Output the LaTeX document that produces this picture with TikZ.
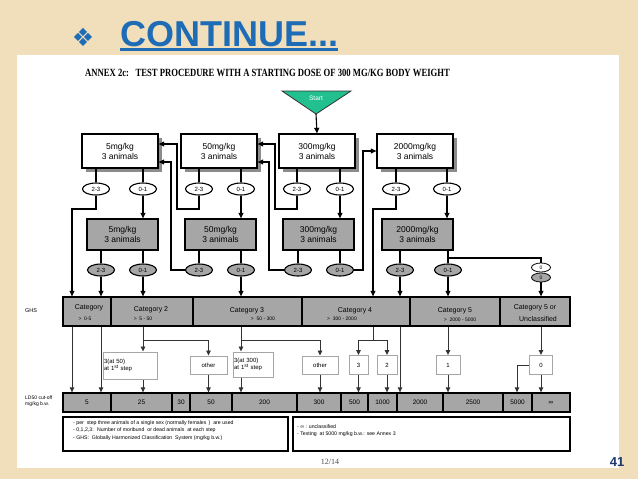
\documentclass[tikz,border=0pt]{standalone}
\usepackage{graphicx}
\usepackage{fontspec}
\setmainfont{Liberation Sans}
\newfontfamily\serifrm{Liberation Serif}
\newfontfamily\symfont{DejaVu Sans}
\usetikzlibrary{arrows.meta,shadows,shapes.geometric,calc}
\definecolor{pagebg}{HTML}{F0DFBA}
\definecolor{titleblue}{HTML}{1F6CB6}
\definecolor{boxgray}{HTML}{A6A6A6}
\definecolor{shadowgray}{HTML}{8C8C8C}
\definecolor{startgreen}{HTML}{22C08E}
\definecolor{pagenum}{HTML}{1F3A6A}
\begin{document}
\begin{tikzpicture}[x=1pt,y=-1pt,
  arr/.style={-{Triangle[length=5.5pt,width=5pt]}, line width=1.1pt},
  ln/.style={line width=1.1pt},
  larr/.style={-{Triangle[length=5pt,width=4.5pt]}, line width=0.9pt, black!80},
  lln/.style={line width=0.9pt, black!80},
  wbox/.style={draw, line width=1.3pt, fill=white, minimum width=76pt, minimum height=34pt, inner sep=0pt, align=center, font=\fontsize{8.5}{10}\selectfont, drop shadow={shadow xshift=4pt, shadow yshift=-4pt, fill=shadowgray, opacity=1}},
  gbox/.style={draw, line width=1.3pt, fill=boxgray, minimum width=71pt, minimum height=31pt, inner sep=0pt, align=center, font=\fontsize{8.5}{10}\selectfont},
  ell/.style={ellipse, draw, line width=1.1pt, fill=white, minimum width=27pt, minimum height=12pt, inner sep=0pt, font=\fontsize{6}{6}\selectfont},
  gell/.style={ell, fill=boxgray},
  zell/.style={ell, minimum width=19pt, minimum height=9pt, line width=0.8pt},
  cell/.style={draw, line width=1.3pt, fill=boxgray, minimum height=29pt, inner sep=0pt},
  ldcell/.style={draw, line width=1.3pt, fill=boxgray, minimum height=19pt, inner sep=0pt, font=\fontsize{6.5}{7}\selectfont},
  lbox/.style={draw=gray!70, line width=1pt, fill=white, inner sep=0pt, font=\fontsize{6}{7}\selectfont, minimum height=19pt},
  catt/.style={font=\fontsize{7}{8}\selectfont, inner sep=0pt},
  catr/.style={font=\fontsize{5}{6}\selectfont, inner sep=0pt},
  note/.style={draw, line width=1.2pt, fill=white, minimum height=34pt, inner sep=0pt},
  notetxt/.style={font=\fontsize{5.2}{7.4}\selectfont, align=left, inner sep=0pt, anchor=north west}
]
\useasboundingbox (0,0) rectangle (638,479);
\fill[pagebg] (0,0) rectangle (638,479);
\fill[white] (17,55) rectangle (619,468);

% title
\node[text=titleblue, font=\symfont\fontsize{25}{25}\selectfont, inner sep=0pt] (bul) at (83,37) {❖};
\node[anchor=base west, inner sep=0pt, text=titleblue, font=\fontsize{36}{36}\selectfont\bfseries] (ttl) at (120,46) {CONTINUE...};
\draw[titleblue, line width=2.2pt] ($(ttl.base west)+(0,3.5)$) -- ($(ttl.base east)+(0,3.5)$);
\node[anchor=base west, inner sep=0pt, font=\serifrm\bfseries\fontsize{11}{11}\selectfont] (annex) at (85,76) {\scalebox{0.785}[1]{ANNEX 2c:\ \ \ TEST PROCEDURE WITH A STARTING DOSE OF 300 MG/KG BODY WEIGHT}};

% start
\filldraw[fill=startgreen, draw=black!80, line width=0.8pt] (282,91) -- (351,91) -- (316,114) -- cycle;
\node[text=white, font=\fontsize{6.5}{7}\selectfont, inner sep=0pt] (start) at (316,98) {Start};
\coordinate (sa) at (316,114);

% helper coordinates
\coordinate (xA) at (72,0);
\coordinate (xB) at (177,0);
\coordinate (xC) at (171,0);
\coordinate (xD) at (275,0);
\coordinate (xE) at (269,0);
\coordinate (xF) at (363,0);
\coordinate (xG) at (373,0);
\coordinate (xI) at (517,0);
\coordinate (yA) at (0,209);
\coordinate (yB) at (0,340);
\coordinate (yC) at (0,258);
\coordinate (yP) at (0,144);
\coordinate (yQ) at (0,162);

% row 1 boxes
\node[wbox] (w5) at (120,151) {5mg/kg\\3 animals};
\node[wbox] (w50) at (219,151) {50mg/kg\\3 animals};
\node[wbox] (w300) at (317,151) {300mg/kg\\3 animals};
\node[wbox] (w2000) at (415,151) {2000mg/kg\\3 animals};

% row 1 ellipses
\node[ell] (e5a) at (96,189) {2-3};
\node[ell] (e5b) at (143,189) {0-1};
\node[ell] (e50a) at (199,189) {2-3};
\node[ell] (e50b) at (241,189) {0-1};
\node[ell] (e300a) at (297,189) {2-3};
\node[ell] (e300b) at (340,189) {0-1};
\node[ell] (e2000a) at (396,189) {2-3};
\node[ell] (e2000b) at (447,189) {0-1};

% row 2 boxes
\node[gbox] (g5) at (122.5,234.5) {5mg/kg\\3 animals};
\node[gbox] (g50) at (220.5,234.5) {50mg/kg\\3 animals};
\node[gbox] (g300) at (318.5,234.5) {300mg/kg\\3 animals};
\node[gbox] (g2000) at (417.5,234.5) {2000mg/kg\\3 animals};

% row 2 ellipses
\node[gell] (f5a) at (101,270) {2-3};
\node[gell] (f5b) at (143,270) {0-1};
\node[gell] (f50a) at (199,270) {2-3};
\node[gell] (f50b) at (241,270) {0-1};
\node[gell] (f300a) at (298,270) {2-3};
\node[gell] (f300b) at (340,270) {0-1};
\node[gell] (f2000a) at (400,270) {2-3};
\node[gell] (f2000b) at (448,270) {0-1};
\node[zell, font=\fontsize{5}{5}\selectfont] (z1) at (541,267.5) {0};
\node[zell, fill=boxgray, font=\fontsize{5}{5}\selectfont] (z2) at (541,277.5) {0};

% GHS bar
\node[font=\fontsize{5.5}{6}\selectfont, anchor=west, inner sep=0pt] (ghs) at (25,311) {GHS};
\node[cell, minimum width=48pt] (c1) at (87,311.5) {};
\node[cell, minimum width=82pt] (c2) at (152,311.5) {};
\node[cell, minimum width=109pt] (c3) at (247.5,311.5) {};
\node[cell, minimum width=108pt] (c4) at (356,311.5) {};
\node[cell, minimum width=90pt] (c5) at (455,311.5) {};
\node[cell, minimum width=70pt] (c6) at (535,311.5) {};
\node[catt] (t1) at (89,307.5) {Category};
\node[catr] (r1) at (85,318.5) {> \ 0-5};
\node[catt] (t2) at (151,310) {Category 2};
\node[catr] (r2) at (143,318.5) {> \ 5 - 50};
\node[catt] (t3) at (247,310.5) {Category 3};
\node[catr] (r3) at (263,319) {> \ 50 - 300};
\node[catt] (t4) at (355,310.5) {Category 4};
\node[catr] (r4) at (342,319) {> \ 300 - 2000};
\node[catt] (t5) at (455,310.5) {Category 5};
\node[catr] (r5) at (460,320) {> \ 2000 - 5000};
\node[catt] (t6) at (535,307.5) {Category 5 or};
\node[catt] (t6b) at (538,318.5) {Unclassified};

% lower boxes
\node[lbox, minimum width=54pt, minimum height=27pt, text width=52pt, align=left] (b1) at (130,365.5) {3(at 50)\\at 1\textsuperscript{st} step};
\node[lbox, minimum width=37pt, minimum height=18pt] (b2) at (208.5,365) {other};
\node[lbox, minimum width=40pt, minimum height=25pt, text width=38pt, align=left] (b3) at (253,364.5) {3(at 300)\\at 1\textsuperscript{st} step};
\node[lbox, minimum width=36pt, minimum height=18pt] (b4) at (320,365) {other};
\node[lbox, minimum width=19pt] (b5) at (358.5,365) {3};
\node[lbox, minimum width=20pt] (b6) at (387,365) {2};
\node[lbox, minimum width=24pt] (b7) at (448,365) {1};
\node[lbox, minimum width=23pt] (b8) at (541,365) {0};

% LD50 bar
\node[font=\fontsize{5}{6}\selectfont, anchor=west, inner sep=0pt, align=left] (ldl) at (25,401) {LD50 cut-off\\mg/kg b.w.};
\node[ldcell, minimum width=48pt] (d1) at (87,402.5) {5};
\node[ldcell, minimum width=61pt] (d2) at (141.5,402.5) {25};
\node[ldcell, minimum width=18pt] (d3) at (181,402.5) {30};
\node[ldcell, minimum width=42pt] (d4) at (211,402.5) {50};
\node[ldcell, minimum width=65pt] (d5) at (264.5,402.5) {200};
\node[ldcell, minimum width=44pt] (d6) at (319,402.5) {300};
\node[ldcell, minimum width=27pt] (d7) at (354.5,402.5) {500};
\node[ldcell, minimum width=29pt] (d8) at (382.5,402.5) {1000};
\node[ldcell, minimum width=46pt] (d9) at (420,402.5) {2000};
\node[ldcell, minimum width=60pt] (d10) at (473,402.5) {2500};
\node[ldcell, minimum width=29pt] (d11) at (517.5,402.5) {5000};
\node[ldcell, minimum width=38pt] (d12) at (551,402.5) {∞};

% notes
\node[note, minimum width=225pt] (n1) at (175.5,434) {};
\node[note, minimum width=277pt] (n2) at (431.5,434) {};
\node[notetxt] (n1t) at (73,420.5) {- per \ step three animals of a single sex (normally females \,) \ are used\\- 0,1,2,3: \ Number of moribund \ or dead animals \ at each step\\- GHS: \ Globally Harmonized Classification \ System (mg/kg b.w.)};
\node[notetxt, font=\fontsize{5.2}{6.6}\selectfont] (n2t) at (297,424.5) {- ∞ : unclassified\\- Testing \ at 5000 mg/kg b.w.: see Annex 3};

% footer
\node[font=\serifrm\fontsize{8}{8}\selectfont, text=black!70, inner sep=0pt] (pg) at (330,462) {12/14};
\node[font=\fontsize{13}{13}\selectfont\bfseries, text=pagenum, inner sep=0pt] (pn) at (617,462) {41};

% connectors: upper part
\draw[arr] (sa) -- (w300.north);
\foreach \b/\e in {w5/e5a,w5/e5b,w50/e50a,w50/e50b,w300/e300a,w300/e300b,w2000/e2000a,w2000/e2000b}
  \draw[ln] (\e.north |- \b.south) -- (\e.north);
\foreach \e/\g in {e5b/g5,e50b/g50,e300b/g300,e2000b/g2000}
  \draw[arr] (\e.south) -- (\e.south |- \g.north);
\foreach \g/\f in {g5/f5a,g5/f5b,g50/f50a,g50/f50b,g300/f300a,g300/f300b,g2000/f2000a,g2000/f2000b}
  \draw[ln] (\f.north |- \g.south) -- (\f.north);

\draw[arr] (e5a.south) |- (xA |- yA) -- (xA |- c1.north);
\draw[arr] (e50a.south) |- (xB |- yA) |- (w5.east |- yP);
\draw[arr] (f50a.west) -| (xC |- yQ) -- (w5.east |- yQ);
\draw[arr] (e300a.south) |- (xD |- yA) |- (w50.east |- yP);
\draw[arr] (f300a.west) -| (xE |- yQ) -- (w50.east |- yQ);
\draw[arr] (f300b.east) -| (xF |- w2000.west) -- (w2000.west);
\draw[arr] (e2000a.south) |- (xG |- yA) -- (xG |- c4.north);
\draw[arr] (f5a.south) -- (f5a.south |- c1.north);
\draw[arr] (f5b.south) -- (f5b.south |- c2.north);
\draw[arr] (f50b.south) -- (f50b.south |- c3.north);
\draw[arr] (f2000a.south) -- (f2000a.south |- c4.north);
\draw[arr] (f2000b.south) -- (f2000b.south |- c5.north);
\draw[ln] (f2000b.north |- yC) -| (z1.north);
\draw[arr] (z2.south) -- (z2.south |- c6.north);

% connectors: lower part
\draw[larr] (xA |- c1.south) -- (xA |- d1.north);
\draw[larr] (f5a |- c1.south) -- (f5a |- d1.north);
\draw[larr] (f5b |- c2.south) -- (f5b |- b1.north);
\draw[larr] (f5b |- yB) -| (b2.north);
\draw[larr] (f5b |- b1.south) -- (f5b |- d2.north);
\draw[larr] (b2.south) -- (b2.south |- d4.north);
\draw[larr] (f50b |- c3.south) -- (f50b |- b3.north);
\draw[larr] (f50b |- yB) -| (b4.north);
\draw[larr] (f50b |- b3.south) -- (f50b |- d5.north);
\draw[larr] (b4.south) -- (b4.south |- d6.north);
\draw[lln] (xG |- c4.south) -- (xG |- yB);
\draw[larr] (xG |- yB) -| (b5.north);
\draw[larr] (xG |- yB) -| (b6.north);
\draw[larr] (b5.south) -- (b5.south |- d7.north);
\draw[larr] (b6.south) -- (b6.south |- d8.north);
\draw[larr] (f2000a |- c4.south) -- (f2000a |- d9.north);
\draw[larr] (f2000b |- c5.south) -- (f2000b |- b7.north);
\draw[larr] (b7.south) -- (b7.south |- d10.north);
\draw[larr] (z2 |- c6.south) -- (z2 |- b8.north);
\draw[larr] (b8.south) -- (b8.south |- d12.north);
\draw[larr] (b8.west) -| (xI |- d11.north);
\end{tikzpicture}
\end{document}
